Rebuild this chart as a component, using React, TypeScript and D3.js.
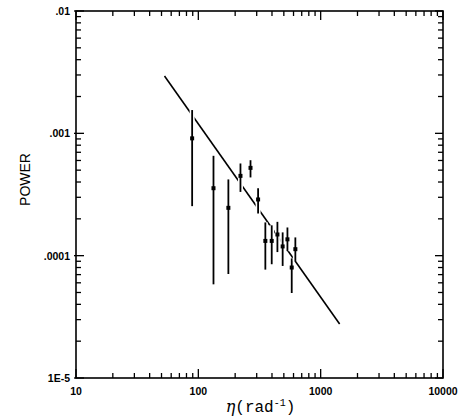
import React from "react";
import * as d3 from "d3";

// spatial frequency (rad^-1) and power with error bar limits
const eta = [89, 133, 176, 221, 267, 308, 353, 398, 443, 489, 535, 580, 621];
const power = [9.1e-4, 3.56e-4, 2.46e-4, 4.49e-4, 5.22e-4, 2.88e-4, 1.32e-4, 1.32e-4, 1.49e-4, 1.19e-4, 1.36e-4, 8.0e-5, 1.13e-4];
const powerHi = [1.55e-3, 6.55e-4, 4.2e-4, 5.67e-4, 6.03e-4, 3.56e-4, 1.87e-4, 1.77e-4, 1.89e-4, 1.55e-4, 1.7e-4, 9.5e-5, 1.41e-4];
const powerLo = [2.54e-4, 5.83e-5, 7.08e-5, 3.32e-4, 4.36e-4, 2.21e-4, 7.69e-5, 8.51e-5, 1.07e-4, 8.24e-5, 1.09e-4, 4.95e-5, 9.05e-5];

// power-law fit end points
const fitEta = [52.9, 1429];
const fitPower = [2.94e-3, 2.76e-5];

const xTickValues = [10, 100, 1000, 10000];
const xTickLabels = ["10", "100", "1000", "10000"];
const yTickValues = [1e-2, 1e-3, 1e-4, 1e-5];
const yTickLabels = [".01", ".001", ".0001", "1E-5"];

export default function App() {
  const width = 463;
  const height = 420;
  const margin = { top: 11, right: 20, bottom: 42, left: 76 };
  const x = d3.scaleLog().domain([10, 10000]).range([margin.left, width - margin.right]);
  const y = d3.scaleLog().domain([1e-5, 1e-2]).range([height - margin.bottom, margin.top]);
  const [x0, x1] = x.range();
  const [y0, y1] = y.range();

  // minor ticks 2..9 per decade
  const minorX: number[] = [];
  [10, 100, 1000].forEach((d) => { for (let k = 2; k <= 9; k++) minorX.push(d * k); });
  const minorY: number[] = [];
  [1e-5, 1e-4, 1e-3].forEach((d) => { for (let k = 2; k <= 9; k++) minorY.push(d * k); });

  const fitLine = d3.line<number>().x((d) => x(d)).y((d, i) => y(fitPower[i]));
  const tickFont = { fontFamily: "Liberation Sans, Arial, sans-serif", fontWeight: 700, fontSize: 10.5 };

  return (
    <svg width={width} height={height} style={{ position: "absolute", left: 0, top: 0, background: "#fff" }}>
      <path d={fitLine(fitEta) || ""} fill="none" stroke="#000" strokeWidth={1.6} />

      {eta.map((e, i) => (
        <g key={i}>
          <line x1={x(e)} x2={x(e)} y1={y(powerHi[i])} y2={y(powerLo[i])} stroke="#fff" strokeWidth={5} />
          <line x1={x(e)} x2={x(e)} y1={y(powerHi[i])} y2={y(powerLo[i])} stroke="#000" strokeWidth={1.8} />
          <rect x={x(e) - 2} y={y(power[i]) - 2} width={4} height={4} fill="#000" />
        </g>
      ))}

      {/* frame */}
      <rect x={x0} y={y1} width={x1 - x0} height={y0 - y1} fill="none" stroke="#000" strokeWidth={1.6} />

      {/* x ticks, bottom and top, pointing inward */}
      {minorX.map((v) => (
        <g key={"mx" + v} stroke="#000" strokeWidth={1.3}>
          <line x1={x(v)} x2={x(v)} y1={y0} y2={y0 - 5} />
          <line x1={x(v)} x2={x(v)} y1={y1} y2={y1 + 5} />
        </g>
      ))}
      {xTickValues.map((v, i) => (
        <g key={"x" + v}>
          <line x1={x(v)} x2={x(v)} y1={y0} y2={y0 - 9} stroke="#000" strokeWidth={1.3} />
          <line x1={x(v)} x2={x(v)} y1={y1} y2={y1 + 9} stroke="#000" strokeWidth={1.3} />
          <text x={x(v)} y={y0 + 17} textAnchor="middle" {...tickFont}>{xTickLabels[i]}</text>
        </g>
      ))}

      {/* y ticks, left and right */}
      {minorY.map((v) => (
        <g key={"my" + v} stroke="#000" strokeWidth={1.3}>
          <line x1={x0} x2={x0 + 5} y1={y(v)} y2={y(v)} />
          <line x1={x1} x2={x1 - 5} y1={y(v)} y2={y(v)} />
        </g>
      ))}
      {yTickValues.map((v, i) => (
        <g key={"y" + v}>
          <line x1={x0 - 2} x2={x0 + 8} y1={y(v)} y2={y(v)} stroke="#000" strokeWidth={1.3} />
          <line x1={x1} x2={x1 - 8} y1={y(v)} y2={y(v)} stroke="#000" strokeWidth={1.3} />
          <text x={x0 - 6} y={y(v) + 4} textAnchor="end" {...tickFont}>{yTickLabels[i]}</text>
        </g>
      ))}

      <text x={(x0 + x1) / 2 + 1} y={412} textAnchor="middle" fontFamily="Liberation Mono, Courier New, monospace" fontSize={16}>
        <tspan fontFamily="DejaVu Serif, serif" fontStyle="italic">η</tspan>(rad
        <tspan dy={-6} fontSize={10}>-1</tspan>
        <tspan dy={6}>)</tspan>
      </text>
      <text transform={`translate(30, ${(y0 + y1) / 2 - 15}) rotate(-90)`} textAnchor="middle"
        fontFamily="Liberation Sans, Arial, sans-serif" fontSize={14}>POWER</text>
    </svg>
  );
}
